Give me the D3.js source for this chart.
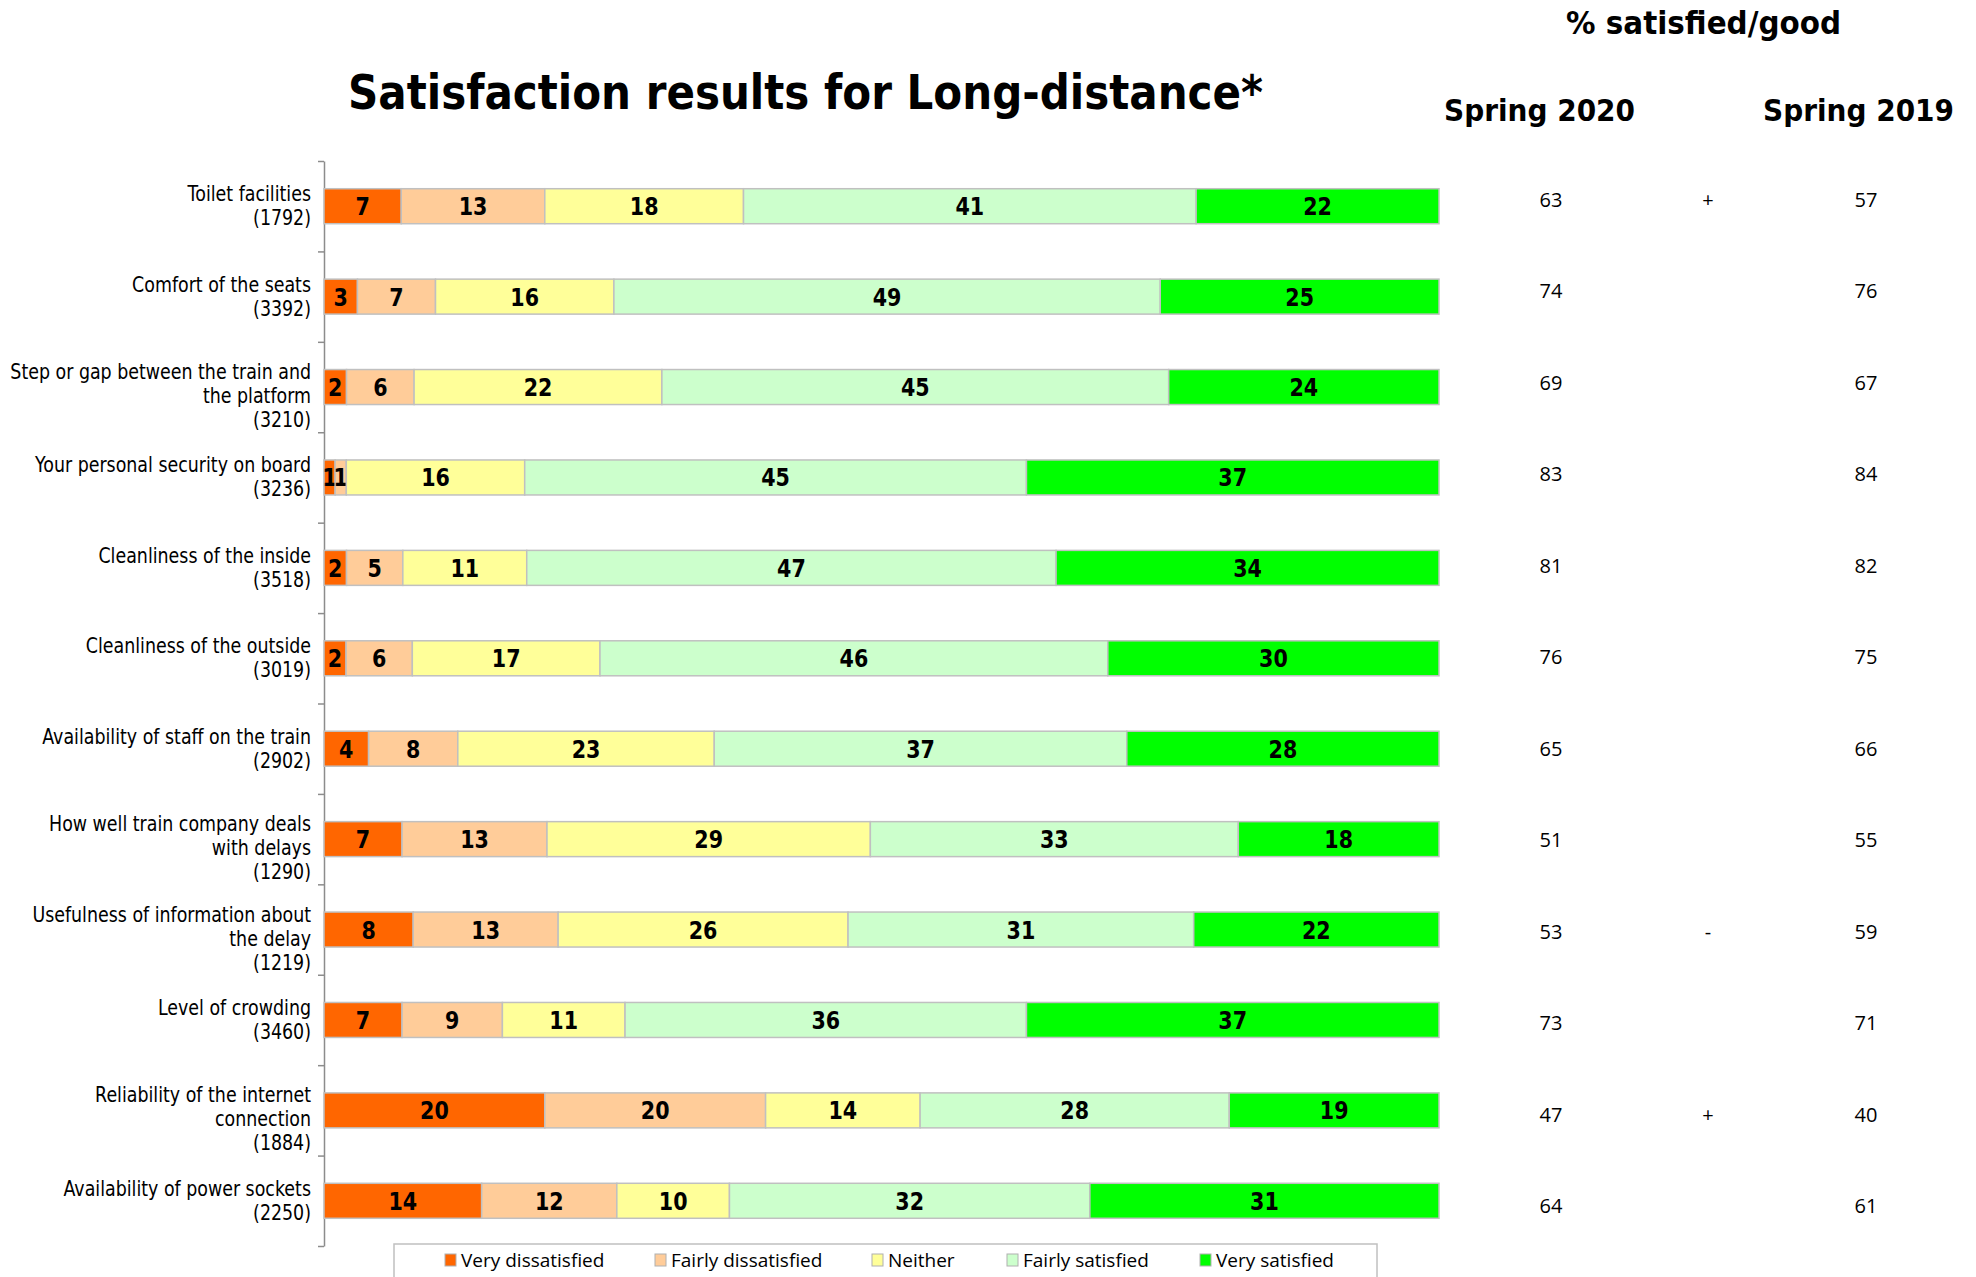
<!DOCTYPE html>
<html>
<head>
<meta charset="utf-8">
<script src="https://cdn.jsdelivr.net/npm/d3@7"></script>
<style>
  body { margin: 0; background: #fff; }
  svg { display: block; }
</style>
</head>
<body>
<svg id="chart"></svg>
<script>
// categories (line breaks as in the original wrapped labels)
const categories = [
  "Toilet facilities",
  "Comfort of the seats",
  "Step or gap between the train and\nthe platform",
  "Your personal security on board",
  "Cleanliness of the inside",
  "Cleanliness of the outside",
  "Availability of staff on the train",
  "How well train company deals\nwith delays",
  "Usefulness of information about\nthe delay",
  "Level of crowding",
  "Reliability of the internet\nconnection",
  "Availability of power sockets"
];
const sampleSizes = [1792, 3392, 3210, 3236, 3518, 3019, 2902, 1290, 1219, 3460, 1884, 2250];

const responseLevels = ["Very dissatisfied", "Fairly dissatisfied", "Neither", "Fairly satisfied", "Very satisfied"];
const levelColors = ["#ff6600", "#ffcc99", "#ffff99", "#ccffcc", "#00ff00"];

const veryDissatisfied   = [7, 3, 2, 1, 2, 2, 4, 7, 8, 7, 20, 14];
const fairlyDissatisfied = [13, 7, 6, 1, 5, 6, 8, 13, 13, 9, 20, 12];
const neither            = [18, 16, 22, 16, 11, 17, 23, 29, 26, 11, 14, 10];
const fairlySatisfied    = [41, 49, 45, 45, 47, 46, 37, 33, 31, 36, 28, 32];
const verySatisfied      = [22, 25, 24, 37, 34, 30, 28, 18, 22, 37, 19, 31];

const spring2020 = [63, 74, 69, 83, 81, 76, 65, 51, 53, 73, 47, 64];
const spring2019 = [57, 76, 67, 84, 82, 75, 66, 55, 59, 71, 40, 61];
const changeSign = ["+", "", "", "", "", "", "", "", "-", "", "+", ""];

const W = 1976, H = 1277;
const svg = d3.select("#chart").attr("width", W).attr("height", H);
svg.append("rect").attr("width", W).attr("height", H).attr("fill", "#fff");

const plotTop = 161, plotBottom = 1246, plotLeft = 324, plotRight = 1439;

// rows for the stack
let rows = categories.map((c, i) => ({
  cat: c,
  "Very dissatisfied": veryDissatisfied[i],
  "Fairly dissatisfied": fairlyDissatisfied[i],
  "Neither": neither[i],
  "Fairly satisfied": fairlySatisfied[i],
  "Very satisfied": verySatisfied[i]
}));

let stacked = d3.stack().keys(responseLevels).offset(d3.stackOffsetExpand)(rows);

let x = d3.scaleLinear().domain([0, 1]).range([plotLeft, plotRight]);
let y = d3.scaleBand().domain(categories).range([plotTop, plotBottom])
  .paddingInner(0.613).paddingOuter(0.3065);
let color = d3.scaleOrdinal().domain(responseLevels).range(levelColors);

// left axis with ticks between categories
let yIdx = d3.scaleLinear().domain([0, categories.length]).range([plotTop, plotBottom]);
let axis = svg.append("g")
  .attr("transform", "translate(" + plotLeft + ",0)")
  .call(d3.axisLeft(yIdx).tickValues(d3.range(categories.length + 1)).tickFormat("")
    .tickSizeInner(6).tickSizeOuter(0));
axis.selectAll("path, line").attr("stroke", "#8c8c8c").attr("stroke-width", 1.5);

// bars
let layers = svg.selectAll(".layer")
  .data(stacked)
  .enter().append("g")
  .attr("class", "layer")
  .attr("fill", d => color(d.key));

layers.selectAll("rect")
  .data(d => d)
  .enter().append("rect")
  .attr("x", d => x(d[0]))
  .attr("y", d => y(d.data.cat))
  .attr("width", d => x(d[1]) - x(d[0]))
  .attr("height", y.bandwidth())
  .attr("stroke", "#c0c0c0")
  .attr("stroke-width", 1.5);

// value labels inside segments
layers.each(function (layer) {
  d3.select(this).selectAll("text")
    .data(layer)
    .enter().append("text")
    .attr("transform", d => "translate(" + ((x(d[0]) + x(d[1])) / 2) + "," + (y(d.data.cat) + y.bandwidth() / 2 + 9) + ") scale(0.86,1)")
    .attr("text-anchor", "middle")
    .attr("font-family", "DejaVu Sans, sans-serif")
    .attr("font-weight", "bold")
    .attr("font-size", 24)
    .attr("fill", "#000")
    .text(d => d.data[layer.key]);
});

// category labels
categories.forEach((c, i) => {
  let lines = c.split("\n").concat(["(" + sampleSizes[i] + ")"]);
  let cy = y(c) + y.bandwidth() / 2;
  let first = cy - (lines.length - 1) * 12 + 7 + (lines.length === 3 ? 9 : 0);
  lines.forEach((ln, j) => {
    svg.append("text")
      .attr("transform", "translate(311," + (first + j * 24) + ") scale(0.83,1)")
      .attr("text-anchor", "end")
      .attr("font-family", "DejaVu Sans, sans-serif")
      .attr("font-size", 21)
      .attr("fill", "#000")
      .text(ln);
  });
});

// title
svg.append("text")
  .attr("x", 348).attr("y", 109)
  .attr("textLength", 915).attr("lengthAdjust", "spacingAndGlyphs")
  .attr("font-family", "DejaVu Sans, sans-serif")
  .attr("font-weight", "bold")
  .attr("font-size", 48)
  .text("Satisfaction results for Long-distance*");

// right hand side headers
const headFont = "DejaVu Sans, sans-serif";
svg.append("text")
  .attr("x", 1566).attr("y", 34)
  .attr("textLength", 275).attr("lengthAdjust", "spacingAndGlyphs")
  .attr("font-family", headFont).attr("font-weight", "bold").attr("font-size", 32)
  .text("% satisfied/good");
svg.append("text")
  .attr("x", 1444).attr("y", 121)
  .attr("textLength", 191).attr("lengthAdjust", "spacingAndGlyphs")
  .attr("font-family", headFont).attr("font-weight", "bold").attr("font-size", 30)
  .text("Spring 2020");
svg.append("text")
  .attr("x", 1763).attr("y", 121)
  .attr("textLength", 191).attr("lengthAdjust", "spacingAndGlyphs")
  .attr("font-family", headFont).attr("font-weight", "bold").attr("font-size", 30)
  .text("Spring 2019");

// right hand side values: the table rows have their own even spacing
let numFont = "Open Sans, sans-serif";
let tableY = d3.scalePoint().domain(categories).range([207, 1213]);
let valCols = [
  { vals: spring2020, cx: 1551 },
  { vals: changeSign, cx: 1708 },
  { vals: spring2019, cx: 1866 }
];
valCols.forEach(col => {
  svg.selectAll(null)
    .data(categories)
    .enter().append("text")
    .attr("x", col.cx)
    .attr("y", d => tableY(d))
    .attr("text-anchor", "middle")
    .attr("font-family", numFont)
    .attr("font-size", 20)
    .attr("fill", "#000")
    .text((d, i) => col.vals[i]);
});

// legend
let legend = svg.append("g");
legend.append("rect")
  .attr("x", 394).attr("y", 1244).attr("width", 983).attr("height", 60)
  .attr("fill", "#fff").attr("stroke", "#c0c0c0").attr("stroke-width", 1.5);
const legendX = [445, 655, 872, 1007, 1200];
responseLevels.forEach((k, i) => {
  legend.append("rect")
    .attr("x", legendX[i]).attr("y", 1254).attr("width", 11).attr("height", 12)
    .attr("fill", color(k)).attr("stroke", "#b0b0b0").attr("stroke-width", 1);
  legend.append("text")
    .attr("x", legendX[i] + 16).attr("y", 1267)
    .attr("font-family", numFont)
    .attr("font-size", 19)
    .attr("fill", "#000")
    .text(k);
});
</script>
</body>
</html>
